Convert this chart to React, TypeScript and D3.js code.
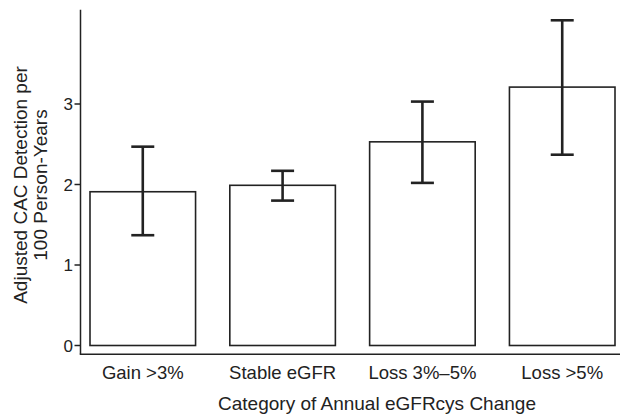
import React from "react";
import * as d3 from "d3";

const categories = ["Gain >3%", "Stable eGFR", "Loss 3%\u20135%", "Loss >5%"];
const rates = [1.91, 1.99, 2.53, 3.21];
const lower = [1.37, 1.8, 2.02, 2.37];
const upper = [2.47, 2.17, 3.03, 4.04];
const yTicks = [0, 1, 2, 3];
const yLabelLines = ["Adjusted CAC Detection per", "100 Person-Years"];
const xTitle = "Category of Annual eGFRcys Change";

const W = 620;
const H = 414;
const FONT = "'Liberation Sans', Arial, Helvetica, sans-serif";
const INK = "#222";

export default function App() {
  const y = d3.scaleLinear().domain([0, 3]).range([345.5, 104]);
  const x = d3
    .scaleBand<string>()
    .domain(categories)
    .range([90, 615])
    .paddingInner(0.245)
    .paddingOuter(0);
  const axisX = 80.5;
  const axisTop = y(4.17);
  const axisBottom = y(-0.11);
  const capW = 23;

  return (
    <svg
      width={W}
      height={H}
      style={{ position: "absolute", left: 0, top: 0, background: "#fff" }}
      fontFamily={FONT}
    >
      <rect width={W} height={H} fill="#fff" />
      {/* y axis */}
      <line x1={axisX} x2={axisX} y1={axisTop} y2={axisBottom} stroke={INK} strokeWidth={1.5} />
      {yTicks.map((t) => (
        <g key={t}>
          <line x1={axisX - 6} x2={axisX} y1={y(t)} y2={y(t)} stroke={INK} strokeWidth={1.5} />
          <text x={73} y={y(t)} dy="0.36em" textAnchor="end" fontSize={17} fill={INK}>
            {t}
          </text>
        </g>
      ))}
      {/* x axis */}
      <line x1={axisX - 0.75} x2={W} y1={axisBottom} y2={axisBottom} stroke={INK} strokeWidth={1.5} />
      {/* bars */}
      {categories.map((c, i) => {
        const bx = x(c)!;
        const cx = bx + x.bandwidth() / 2;
        return (
          <g key={c}>
            <rect
              x={bx}
              y={y(rates[i])}
              width={x.bandwidth()}
              height={y(0) - y(rates[i])}
              fill="#fff"
              stroke={INK}
              strokeWidth={1.6}
            />
            <line x1={cx} x2={cx} y1={y(upper[i])} y2={y(lower[i])} stroke={INK} strokeWidth={2.6} />
            <line x1={cx - capW / 2} x2={cx + capW / 2} y1={y(upper[i])} y2={y(upper[i])} stroke={INK} strokeWidth={2.6} />
            <line x1={cx - capW / 2} x2={cx + capW / 2} y1={y(lower[i])} y2={y(lower[i])} stroke={INK} strokeWidth={2.6} />
            <text x={cx} y={379} textAnchor="middle" fontSize={18.5} fill={INK}>
              {c}
            </text>
          </g>
        );
      })}
      {/* x title */}
      <text x={377} y={410} textAnchor="middle" fontSize={19} fill={INK}>
        {xTitle}
      </text>
      {/* y title */}
      <g transform={`translate(0, 185) rotate(-90)`}>
        {yLabelLines.map((l, i) => (
          <text key={l} x={0} y={27 + i * 20} textAnchor="middle" fontSize={19} fill={INK}>
            {l}
          </text>
        ))}
      </g>
    </svg>
  );
}
